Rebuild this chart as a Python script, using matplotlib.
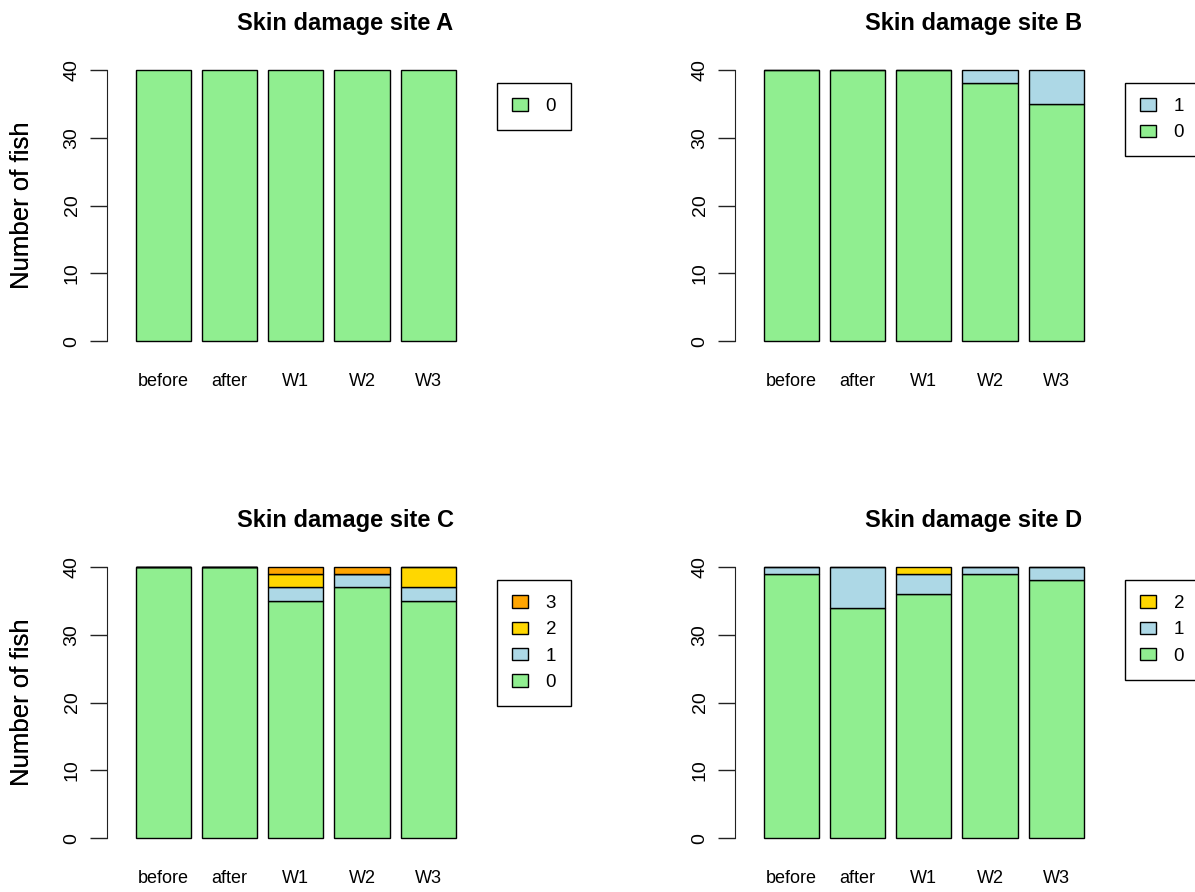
import numpy as np
import matplotlib.pyplot as plt
from matplotlib.patches import Patch

plt.rcParams['font.family'] = ['Liberation Sans', 'DejaVu Sans']

stages = ['before', 'after', 'W1', 'W2', 'W3']

# number of fish per damage score at each sampling point
a_0 = [40, 40, 40, 40, 40]

b_0 = [40, 40, 40, 38, 35]
b_1 = [0, 0, 0, 2, 5]

c_0 = [40, 40, 35, 37, 35]
c_1 = [0, 0, 2, 2, 2]
c_2 = [0, 0, 2, 0, 3]
c_3 = [0, 0, 1, 1, 0]

d_0 = [39, 34, 36, 39, 38]
d_1 = [1, 6, 3, 1, 2]
d_2 = [0, 0, 1, 0, 0]

score_colors = {'0': '#90EE90', '1': '#ADD8E6', '2': '#FFD700', '3': '#FFA500'}

W, H = 1195, 892
fig = plt.figure(figsize=(W / 100, H / 100), dpi=100)

panels = [
    ('A', {'0': a_0}, 107, 59),
    ('B', {'0': b_0, '1': b_1}, 735, 59),
    ('C', {'0': c_0, '1': c_1, '2': c_2, '3': c_3}, 107, 556),
    ('D', {'0': d_0, '1': d_1, '2': d_2}, 735, 556),
]

aw, ah = 477, 293
x = 0.7 + 1.2 * np.arange(len(stages))

for site, counts, left, top in panels:
    ax = fig.add_axes([left / W, 1 - (top + ah) / H, aw / W, ah / H])
    bottom = np.zeros(len(stages))
    for score, vals in counts.items():
        ax.bar(x, vals, width=1.0, bottom=bottom, color=score_colors[score],
               edgecolor='black', linewidth=1.0)
        bottom += np.array(vals)

    ax.set_xlim(-0.32, 8.32)
    ax.set_ylim(-1.6, 41.6)
    for s in ['top', 'right', 'bottom']:
        ax.spines[s].set_visible(False)
    ax.spines['left'].set_bounds(0, 40)
    ax.spines['left'].set_color('#222222')
    ax.set_yticks([0, 10, 20, 30, 40])
    ax.tick_params(axis='y', length=12, width=1, color='#222222', pad=7,
                   labelsize=14)
    for lab in ax.get_yticklabels():
        lab.set_rotation(90)
        lab.set_va('center')
    ax.set_xticks(x)
    ax.set_xticklabels(stages)
    ax.tick_params(axis='x', length=0, pad=15, labelsize=13)

    fig.text(22 / W, 1 - (top + 146) / H, 'Number of fish', rotation=90,
             ha='center', va='center', fontsize=18.5)
    fig.text((left + aw / 2) / W, 1 - (top - 29) / H, f'Skin damage site {site}',
             ha='center', va='baseline', fontsize=17, fontweight='bold')

    handles = [Patch(facecolor=score_colors[k], edgecolor='black', linewidth=1.0, label=k)
               for k in reversed(list(counts.keys()))]
    leg = ax.legend(handles=handles, loc='upper left',
                    bbox_to_anchor=((left + 390) / W, 1 - (top + 24) / H),
                    bbox_transform=fig.transFigure, borderaxespad=0,
                    fancybox=False, edgecolor='black', framealpha=1,
                    fontsize=13.5, handlelength=0.85, handleheight=0.65,
                    handletextpad=0.95, labelspacing=0.5, borderpad=0.8)
    leg.get_frame().set_linewidth(1.0)

fig.savefig('out.png', dpi=100)
